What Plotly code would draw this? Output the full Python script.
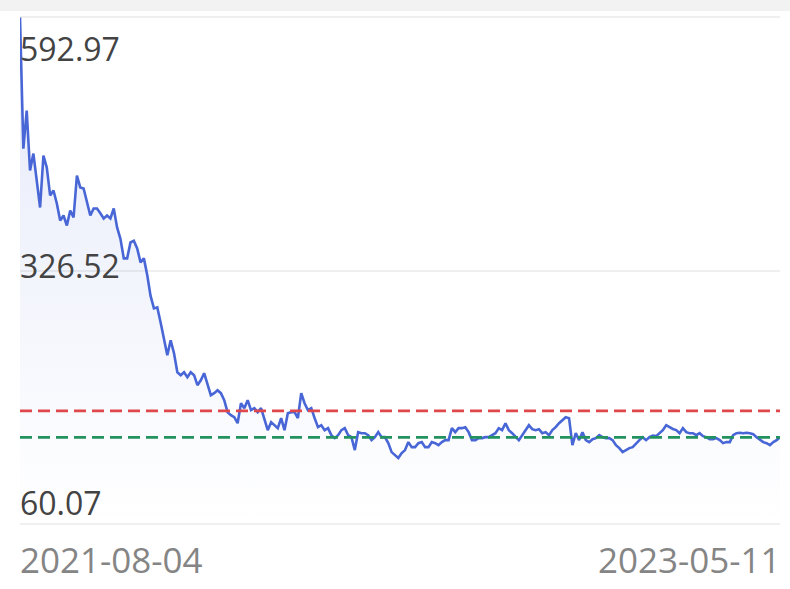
import pandas as pd
import plotly.graph_objects as go

start_date = "2021-08-04"
end_date = "2023-05-11"

seg_a = [592.97, 455.0, 494.9, 431.9, 449.8, 421.4, 393.0, 447.7, 435.0, 405.7,
         410.9, 397.2, 379.4, 384.6, 374.1, 389.9, 382.5, 426.7, 414.1, 413.0,
         400.0, 384.6, 392.0, 392.0, 387.0, 381.5, 384.6, 381.5, 392.0, 372.0,
         360.0, 339.5, 339.5, 356.3, 358.0, 350.0, 335.3, 339.5, 322.0, 300.0,
         286.9, 288.0, 272.0, 255.4, 237.6, 253.3, 239.7]
seg_b = [219.7, 216.6, 219.7, 214.5, 219.7, 216.6, 206.1, 211.3, 218.7, 208.2,
         195.6, 197.7, 200.8, 197.7, 190.3, 177.7, 174.5, 172.4, 166.1, 187.1,
         181.9, 190.3, 179.8, 181.9, 177.7, 181.9, 169.3, 158.8, 167.2, 164.0,
         160.9, 171.4, 158.8, 176.6, 177.7, 177.7, 171.4, 197.7, 187.1, 179.8,
         181.9, 171.4, 161.9, 164.0, 158.8, 160.9, 153.5, 150.4]
seg_c = [153.5, 158.8, 160.9, 153.5, 151.4, 137.8, 156.7, 155.6, 155.6, 153.5,
         148.3, 151.4, 156.7, 151.4, 151.4, 145.1, 135.7, 132.5, 129.4, 134.6,
         137.8, 146.2, 140.9, 140.9, 145.1, 146.2, 140.9, 140.9, 146.2, 145.1,
         143.0, 146.2, 148.3, 148.3, 160.9, 156.7, 160.9, 160.9, 161.9, 156.7,
         148.3, 148.3, 150.4, 150.4, 151.4, 151.4, 153.5]
seg_d = [155.6, 160.9, 158.8, 166.1, 158.8, 155.6, 151.4, 148.3, 153.5, 158.8,
         164.0, 159.8, 158.8, 159.8, 155.6, 156.7, 153.5, 158.8, 161.9, 166.1,
         169.3, 172.4, 171.4, 143.0, 155.6, 148.3, 156.7, 148.3, 146.2, 149.3,
         150.4, 153.5, 151.4, 150.4, 150.4, 148.3, 143.0, 139.9, 135.7, 137.8,
         139.9, 140.9, 145.1, 148.3]
seg_e = [151.4, 148.3, 151.4, 153.0, 152.5, 155.6, 158.8, 164.0, 161.9, 160.0,
         158.8, 155.6, 160.9, 156.7, 155.6, 155.6, 153.5, 155.6, 152.5, 151.4,
         149.3, 149.3, 150.4, 148.3, 145.1, 146.2, 146.2, 153.5, 155.6, 156.0,
         155.6, 156.0, 155.6, 154.6, 151.4, 149.0, 146.2, 145.1, 143.0, 146.2,
         148.3, 151.4]

values = seg_a + seg_b + seg_c + seg_d + seg_e
dates = pd.date_range(start=start_date, end=end_date, periods=len(values))

y_ticks = [60.07, 326.52, 592.97]
y_tick_labels = ["60.07", "326.52", "592.97"]
upper_ref = 179.1
lower_ref = 151.1

fig = go.Figure()
fig.add_trace(go.Scatter(
    x=dates, y=values, mode="lines",
    line=dict(color="#4866d6", width=2.6),
    fill="tozeroy",
    fillgradient=dict(type="vertical",
                      colorscale=[[0, "rgba(72,102,214,0.0)"], [1, "rgba(72,102,214,0.14)"]],
                      start=59, stop=594),
    hoverinfo="skip",
))

shapes = [
    dict(type="line", xref="paper", x0=0, x1=1, yref="y", y0=upper_ref, y1=upper_ref,
         line=dict(color="#e0474a", width=2.8, dash="12px,6px"), layer="above"),
    dict(type="line", xref="paper", x0=0, x1=1, yref="y", y0=lower_ref, y1=lower_ref,
         line=dict(color="#22935f", width=2.8, dash="12px,6px"), layer="above"),
    dict(type="rect", xref="paper", x0=-0.05, x1=1.05, yref="paper", y0=1.010, y1=1.04,
         fillcolor="#f2f2f2", line=dict(width=0), layer="below"),
]

label_font = dict(family="Open Sans", size=32, color="#434343")
shifts = {60.07: 21.5, 326.52: 4.9, 592.97: -31.5}
annotations = []
for v, t in zip(y_ticks, y_tick_labels):
    annotations.append(dict(x=0, xref="paper", y=v, yref="y", text=t, showarrow=False,
                            xanchor="left", yanchor="middle", xshift=-2, yshift=shifts[v],
                            font=label_font))
x_font = dict(family="Open Sans", size=35, color="#858585")
annotations.append(dict(x=0, xref="paper", y=0, yref="paper", text=start_date, showarrow=False,
                        xanchor="left", yanchor="middle", xshift=-2, yshift=-34, font=x_font))
annotations.append(dict(x=1, xref="paper", y=0, yref="paper", text=end_date, showarrow=False,
                        xanchor="right", yanchor="middle", xshift=3, yshift=-34, font=x_font))

fig.update_layout(
    width=790, height=589,
    margin=dict(l=20, r=10, t=16, b=64),
    paper_bgcolor="white", plot_bgcolor="white",
    showlegend=False,
    shapes=shapes,
    annotations=annotations,
    xaxis=dict(range=[dates[0], dates[-1]], showticklabels=False, showgrid=False,
               zeroline=False, showline=False, ticks=""),
    yaxis=dict(range=[59, 594.5], tickvals=y_ticks, showticklabels=False,
               showgrid=True, gridcolor="#efefef", gridwidth=1.5,
               zeroline=False, showline=False, ticks=""),
)

fig.write_html("out.html", config={"displayModeBar": False},
               post_script="document.body.style.margin='0px';")
